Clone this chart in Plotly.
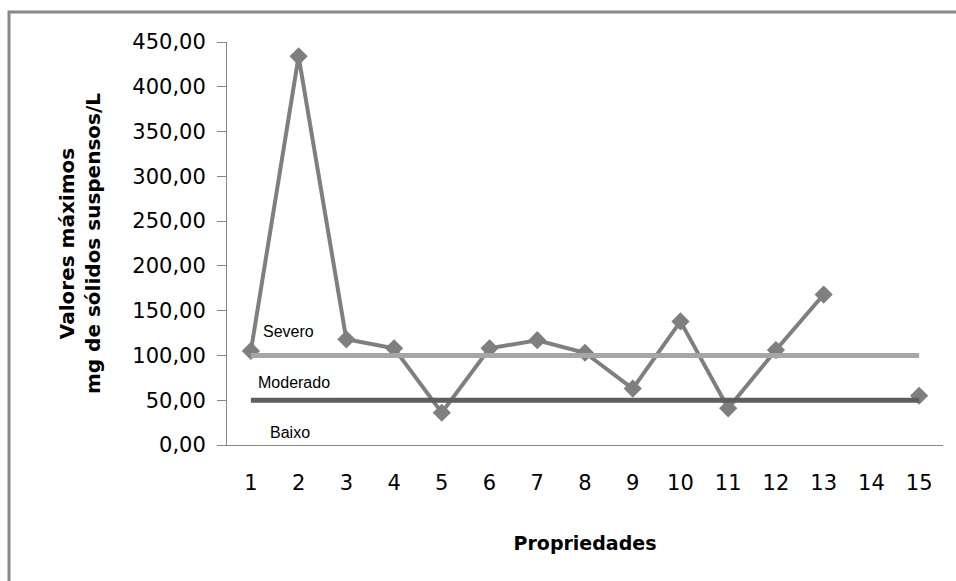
import plotly.graph_objects as go

# Data
propriedades = list(range(1, 16))
tick_labels = [str(i) for i in propriedades]
valores_maximos = [105, 434, 118, 108, 36, 108, 117, 103, 63, 138, 41, 106, 168, None, 55]
limite_severo = [100] * 15
limite_moderado = [50] * 15
y_ticks = [0, 50, 100, 150, 200, 250, 300, 350, 400, 450]
y_tick_labels = [f"{v:.2f}".replace(".", ",") for v in y_ticks]

W, H = 956, 581
ML, MR, MT, MB = 227, 13, 42, 136

fig = go.Figure()

fig.add_trace(go.Scatter(
    x=propriedades, y=valores_maximos, mode="lines+markers",
    line=dict(color="#7f7f7f", width=4),
    marker=dict(symbol="diamond", size=14, color="#7f7f7f"),
    connectgaps=False, showlegend=False, hoverinfo="x+y"))
fig.add_trace(go.Scatter(
    x=propriedades, y=limite_severo, mode="lines",
    line=dict(color="#a6a6a6", width=5), showlegend=False))
fig.add_trace(go.Scatter(
    x=propriedades, y=limite_moderado, mode="lines",
    line=dict(color="#5e5e5e", width=5), showlegend=False))

label_font = dict(family="Liberation Sans, Arial, sans-serif", size=16, color="#000000")
fig.add_annotation(x=1.78, y=127, text="Severo", showarrow=False, font=label_font)
fig.add_annotation(x=1.9, y=70, text="Moderado", showarrow=False, font=label_font)
fig.add_annotation(x=1.82, y=14, text="Baixo", showarrow=False, font=label_font)

plot_w = W - ML - MR
plot_h = H - MT - MB
fig.add_shape(type="rect", xref="paper", yref="paper",
              x0=(9 - ML) / plot_w, x1=1.2,
              y0=-0.6, y1=1 + (MT - 12) / plot_h,
              line=dict(color="#888888", width=3), fillcolor="rgba(0,0,0,0)",
              layer="below")

fig.update_layout(
    width=W, height=H,
    margin=dict(l=ML, r=MR, t=MT, b=MB, pad=0),
    paper_bgcolor="white", plot_bgcolor="white",
    font=dict(family="DejaVu Sans, sans-serif", color="#000000"),
    showlegend=False,
    xaxis=dict(
        range=[0.5, 15.5], tickmode="array", tickvals=propriedades, ticktext=tick_labels,
        showgrid=False, zeroline=False, showline=True, linecolor="#868686", linewidth=1,
        ticks="", tickfont=dict(size=21, family="DejaVu Sans, sans-serif"),
        ticklabelstandoff=19,
        title=dict(text="<b>Propriedades</b>", font=dict(size=19, family="DejaVu Sans, sans-serif"),
                   standoff=42),
    ),
    yaxis=dict(
        range=[0, 450], tickmode="array", tickvals=y_ticks, ticktext=y_tick_labels,
        showgrid=False, zeroline=False, showline=True, linecolor="#868686", linewidth=1,
        ticks="outside", ticklen=9, tickcolor="#868686",
        tickfont=dict(size=21, family="DejaVu Sans, sans-serif"),
        ticklabelstandoff=7,
        title=dict(text="<b>Valores máximos<br>mg de sólidos suspensos/L</b>",
                   font=dict(size=20, family="DejaVu Sans, sans-serif"), standoff=26),
    ),
)

fig.write_html("out.html")
